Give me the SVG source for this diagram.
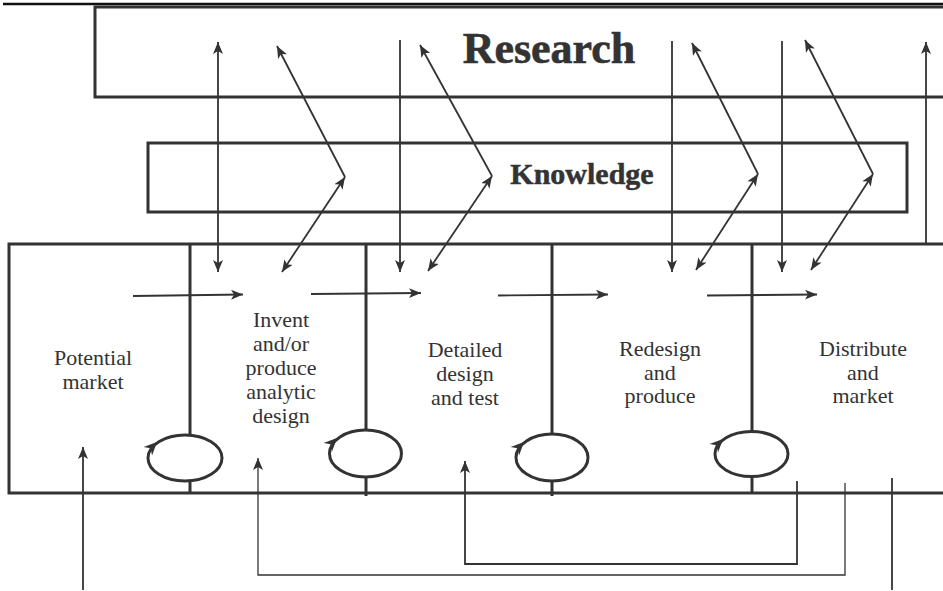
<svg xmlns="http://www.w3.org/2000/svg" width="943" height="591" viewBox="0 0 943 591">
<style>
.box{fill:none;stroke:#333;stroke-width:3}
.div{fill:none;stroke:#333;stroke-width:3}
.ar{fill:none;stroke:#333;stroke-width:1.8}
.thin{fill:none;stroke:#333;stroke-width:1.3}
.lab{font-family:"Liberation Serif","Times New Roman",serif;font-size:22px;fill:#333;text-anchor:middle}
.big{font-family:"Liberation Serif","Times New Roman",serif;font-weight:bold;fill:#333;text-anchor:middle}
</style>
<defs>
<marker id="ah" markerUnits="userSpaceOnUse" markerWidth="14" markerHeight="12" refX="12" refY="5" orient="auto-start-reverse">
<path d="M0,0 L12,5 L0,10 L3,5 z" fill="#333"/>
</marker>
<path id="lh" d="M0,0 L-13,-6 L-9,0 L-13,6 z" fill="#333"/>
</defs>
<g id="frame">
<line x1="3" y1="4" x2="943" y2="4" stroke="#111" stroke-width="2.5"/>
</g>
<g id="research">
<rect class="box" x="95" y="7" width="900" height="90"/>
<text class="big" x="549" y="63" font-size="44" stroke="#333" stroke-width="0.6">Research</text>
</g>
<g id="knowledge">
<rect class="box" x="148" y="143" width="759" height="69"/>
<text class="big" x="582" y="184" font-size="30" stroke="#333" stroke-width="0.5">Knowledge</text>
</g>
<g id="process">
<rect class="box" x="9" y="244" width="990" height="249"/>
</g>
<g id="stage-potential">
<text class="lab" x="93" y="365">Potential</text>
<text class="lab" x="93" y="389">market</text>
</g>
<g id="stage-invent">
<text class="lab" x="281" y="327">Invent</text>
<text class="lab" x="281" y="351">and/or</text>
<text class="lab" x="281" y="375">produce</text>
<text class="lab" x="281" y="399">analytic</text>
<text class="lab" x="281" y="423">design</text>
</g>
<g id="stage-detailed">
<text class="lab" x="465" y="357">Detailed</text>
<text class="lab" x="465" y="381">design</text>
<text class="lab" x="465" y="405">and test</text>
</g>
<g id="stage-redesign">
<text class="lab" x="660" y="356">Redesign</text>
<text class="lab" x="660" y="380">and</text>
<text class="lab" x="660" y="403">produce</text>
</g>
<g id="stage-distribute">
<text class="lab" x="863" y="356">Distribute</text>
<text class="lab" x="863" y="380">and</text>
<text class="lab" x="863" y="403">market</text>
</g>
<g id="divider-1">
<line class="div" x1="190" y1="244" x2="190" y2="435"/>
<line class="div" x1="190" y1="481" x2="190" y2="494"/>
<ellipse class="div" cx="185" cy="458" rx="37" ry="23"/>
<use href="#lh" transform="translate(157,442) rotate(-45)"/>
</g>
<g id="divider-2">
<line class="div" x1="366" y1="244" x2="366" y2="430"/>
<line class="div" x1="366" y1="477" x2="366" y2="496"/>
<ellipse class="div" cx="365.5" cy="453.5" rx="36" ry="23.5"/>
<use href="#lh" transform="translate(337,438) rotate(-45)"/>
</g>
<g id="divider-3">
<line class="div" x1="552" y1="244" x2="552" y2="434"/>
<line class="div" x1="552" y1="481" x2="552" y2="496"/>
<ellipse class="div" cx="552" cy="457.5" rx="36" ry="23.5"/>
<use href="#lh" transform="translate(524,442) rotate(-45)"/>
</g>
<g id="divider-4">
<line class="div" x1="752" y1="244" x2="752" y2="432"/>
<line class="div" x1="752" y1="477" x2="752" y2="494"/>
<ellipse class="div" cx="751.5" cy="454" rx="36.5" ry="22.5"/>
<use href="#lh" transform="translate(723,439) rotate(-45)"/>
</g>
<g id="connectors">
<line class="ar" x1="218" y1="42" x2="218" y2="272" marker-start="url(#ah)" marker-end="url(#ah)"/>
<line class="ar" x1="345" y1="177" x2="277" y2="46" marker-end="url(#ah)"/>
<line class="ar" x1="345" y1="177" x2="282" y2="272" marker-start="url(#ah)" marker-end="url(#ah)"/>
<line class="ar" x1="400" y1="40" x2="400" y2="272" marker-end="url(#ah)"/>
<line class="ar" x1="492" y1="176" x2="420" y2="45" marker-end="url(#ah)"/>
<line class="ar" x1="492" y1="176" x2="428" y2="271" marker-start="url(#ah)" marker-end="url(#ah)"/>
<line class="ar" x1="672" y1="41" x2="672" y2="272" marker-end="url(#ah)"/>
<line class="ar" x1="758" y1="174" x2="692" y2="43" marker-end="url(#ah)"/>
<line class="ar" x1="758" y1="174" x2="696" y2="270" marker-start="url(#ah)" marker-end="url(#ah)"/>
<line class="ar" x1="782" y1="41" x2="782" y2="272" marker-end="url(#ah)"/>
<line class="ar" x1="873" y1="174" x2="805" y2="40" marker-end="url(#ah)"/>
<line class="ar" x1="873" y1="174" x2="811" y2="270" marker-start="url(#ah)" marker-end="url(#ah)"/>
<line class="ar" x1="926" y1="244" x2="926" y2="42" marker-end="url(#ah)"/>
<line class="ar" x1="133" y1="296" x2="243" y2="294.5" marker-end="url(#ah)"/>
<line class="ar" x1="311" y1="294" x2="421" y2="293" marker-end="url(#ah)"/>
<line class="ar" x1="498" y1="295.5" x2="608" y2="294.5" marker-end="url(#ah)"/>
<line class="ar" x1="707" y1="295.5" x2="817" y2="294.5" marker-end="url(#ah)"/>
<line class="ar" x1="83" y1="590" x2="83" y2="447" marker-end="url(#ah)"/>
<polyline class="thin" points="845,483 845,575 258,575 258,458" marker-end="url(#ah)"/>
<polyline class="ar" points="797,481 797,564 465,564 465,461" marker-end="url(#ah)"/>
<line class="ar" x1="892" y1="478" x2="892" y2="590"/>
</g>
</svg>
